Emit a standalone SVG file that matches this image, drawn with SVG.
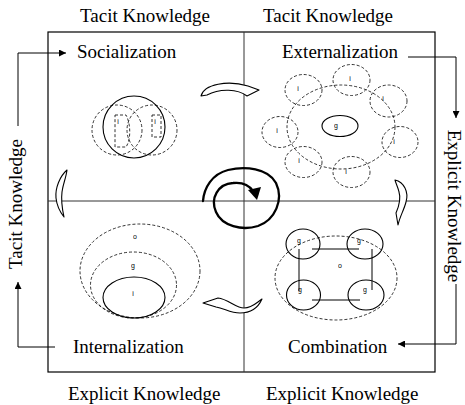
<svg xmlns="http://www.w3.org/2000/svg" width="465" height="405" viewBox="0 0 465 405">
<style>
text{font-family:"Liberation Serif","Times New Roman",serif;fill:#000}
.lbl{font-size:19px}
.tiny{font-size:7px;text-anchor:middle;font-family:"Liberation Sans",sans-serif;opacity:0.99}
.dash{fill:none;stroke:#000;stroke-width:0.8;stroke-dasharray:3,2}
.solid{fill:none;stroke:#000;stroke-width:1.1}
.ln{fill:none;stroke:#000;stroke-width:1}
.curl{fill:#fff;stroke:#000;stroke-width:1.1;stroke-linejoin:round}
</style>
<defs>
<marker id="ah" viewBox="0 0 10 10" refX="10" refY="5" markerWidth="7" markerHeight="7" orient="auto" markerUnits="userSpaceOnUse">
<path d="M0,0 L10,5 L0,10 Z" fill="#000"/>
</marker>
</defs>
<rect width="465" height="405" fill="#fff"/>

<g id="frame">
<rect x="48" y="32" width="387" height="340" fill="none" stroke="#000" stroke-width="1.2"/>
<line x1="48" y1="201" x2="435" y2="201" stroke="#333" stroke-width="1"/>
<line x1="244" y1="32" x2="244" y2="372" stroke="#333" stroke-width="1"/>
</g>

<g id="axis-labels">
<text class="lbl" x="80" y="22">Tacit Knowledge</text>
<text class="lbl" x="263" y="22">Tacit Knowledge</text>
<text class="lbl" x="68" y="400">Explicit Knowledge</text>
<text class="lbl" x="266" y="400">Explicit Knowledge</text>
<text class="lbl" text-anchor="middle" transform="translate(22,204) rotate(-90)">Tacit Knowledge</text>
<text class="lbl" text-anchor="middle" transform="translate(448,206) rotate(90)">Explicit Knowledge</text>
</g>

<g id="socialization">
<text class="lbl" x="77" y="58">Socialization</text>
<circle class="solid" cx="134" cy="127" r="31"/>
<circle class="dash" cx="117" cy="130" r="25"/>
<circle class="dash" cx="152" cy="130" r="25"/>
<path class="dash" d="M115,115 L126,115 C131,124 131,140 126,147 L115,147 Z"/>
<rect class="dash" x="152" y="115" width="9" height="22"/>
<text class="tiny" x="118" y="124">i</text>
<text class="tiny" x="155" y="124">i</text>
</g>

<g id="externalization">
<text class="lbl" x="282" y="58">Externalization</text>
<ellipse class="dash" cx="341" cy="127" rx="54" ry="42"/>
<ellipse class="solid" cx="340" cy="126" rx="18" ry="10.5"/>
<text class="tiny" x="336" y="128">g</text>
<ellipse class="dash" cx="303.5" cy="90" rx="18.5" ry="15.5"/>
<ellipse class="dash" cx="351.5" cy="80" rx="18.5" ry="15.5"/>
<ellipse class="dash" cx="388.5" cy="101" rx="18.5" ry="16"/>
<ellipse class="dash" cx="280" cy="132" rx="18" ry="15.5"/>
<ellipse class="dash" cx="400" cy="142" rx="18" ry="15.5"/>
<ellipse class="dash" cx="303.5" cy="162" rx="18.5" ry="15.5"/>
<ellipse class="dash" cx="351.5" cy="172" rx="18.5" ry="15.5"/>
<text class="tiny" x="298" y="91">i</text>
<text class="tiny" x="350" y="81">i</text>
<text class="tiny" x="383" y="101">i</text>
<text class="tiny" x="277" y="133">i</text>
<text class="tiny" x="394" y="144">i</text>
<text class="tiny" x="299" y="163">i</text>
<text class="tiny" x="346" y="174">i</text>
</g>

<g id="internalization">
<text class="lbl" x="73" y="353">Internalization</text>
<ellipse class="dash" cx="140" cy="271" rx="60" ry="47"/>
<ellipse class="dash" cx="133.5" cy="285" rx="43" ry="33"/>
<ellipse class="solid" cx="134" cy="297.5" rx="31" ry="20.5"/>
<text class="tiny" x="135" y="239">o</text>
<text class="tiny" x="133" y="268">g</text>
<text class="tiny" x="133" y="296">i</text>
</g>

<g id="combination">
<text class="lbl" x="288" y="353">Combination</text>
<ellipse class="dash" cx="336" cy="278" rx="61" ry="42"/>
<ellipse class="solid" cx="303" cy="244" rx="17" ry="15"/>
<ellipse class="solid" cx="365" cy="244" rx="18" ry="15"/>
<ellipse class="solid" cx="303.5" cy="295" rx="17" ry="15"/>
<ellipse class="solid" cx="366" cy="295" rx="18" ry="15"/>
<line class="ln" x1="312" y1="249" x2="359" y2="249"/>
<line class="ln" x1="299" y1="249" x2="299" y2="291"/>
<line class="ln" x1="372" y1="249" x2="372" y2="290"/>
<line class="ln" x1="312" y1="300" x2="360" y2="300"/>
<text class="tiny" x="299" y="243">g</text>
<text class="tiny" x="359" y="243">g</text>
<text class="tiny" x="300" y="292">g</text>
<text class="tiny" x="365" y="292">g</text>
<text class="tiny" x="340" y="268">o</text>
</g>

<g id="connectors">
<polyline class="ln" points="18,126 18,53 66,53" marker-end="url(#ah)"/>
<polyline class="ln" points="55,347 18,347 18,282" marker-end="url(#ah)"/>
<polyline class="ln" points="408,57 456,57 456,118" marker-end="url(#ah)"/>
<polyline class="ln" points="456,284 456,344 398,344" marker-end="url(#ah)"/>
<path class="curl" d="M201,96 C204,84 228,80 248,86 L259,90 L247,96 C238,89 220,88 207,95 Z"/>
<path class="curl" d="M395,180 C404,182 409,192 406,202 C404,210 400,216 398,225 L396,213 C399,206 401,198 399,192 C398,187 396,184 395,180 Z"/>
<path class="curl" d="M203,303 L218,298 C228,299 236,308 244,308 C252,308 256,303 262,299 C258,308 250,313 240,313 C230,313 224,308 216,307 Z"/>
<path class="curl" d="M67,170 C60,176 55,188 56,198 C57,207 60,212 64,217 C62,208 61,200 62,192 C63,184 66,178 67,170 Z"/>
<path d="M203,201 C204,188 212,174 228,170 C245,166 268,168 276,183 C284,200 275,220 258,226 C242,231 222,226 216,212 C210,198 218,184 233,183 C242,182 249,185 253,191" fill="none" stroke="#000" stroke-width="2.3" stroke-linecap="round"/>
<polygon points="248,190 261,187 257,200" fill="#000"/>
</g>
</svg>
